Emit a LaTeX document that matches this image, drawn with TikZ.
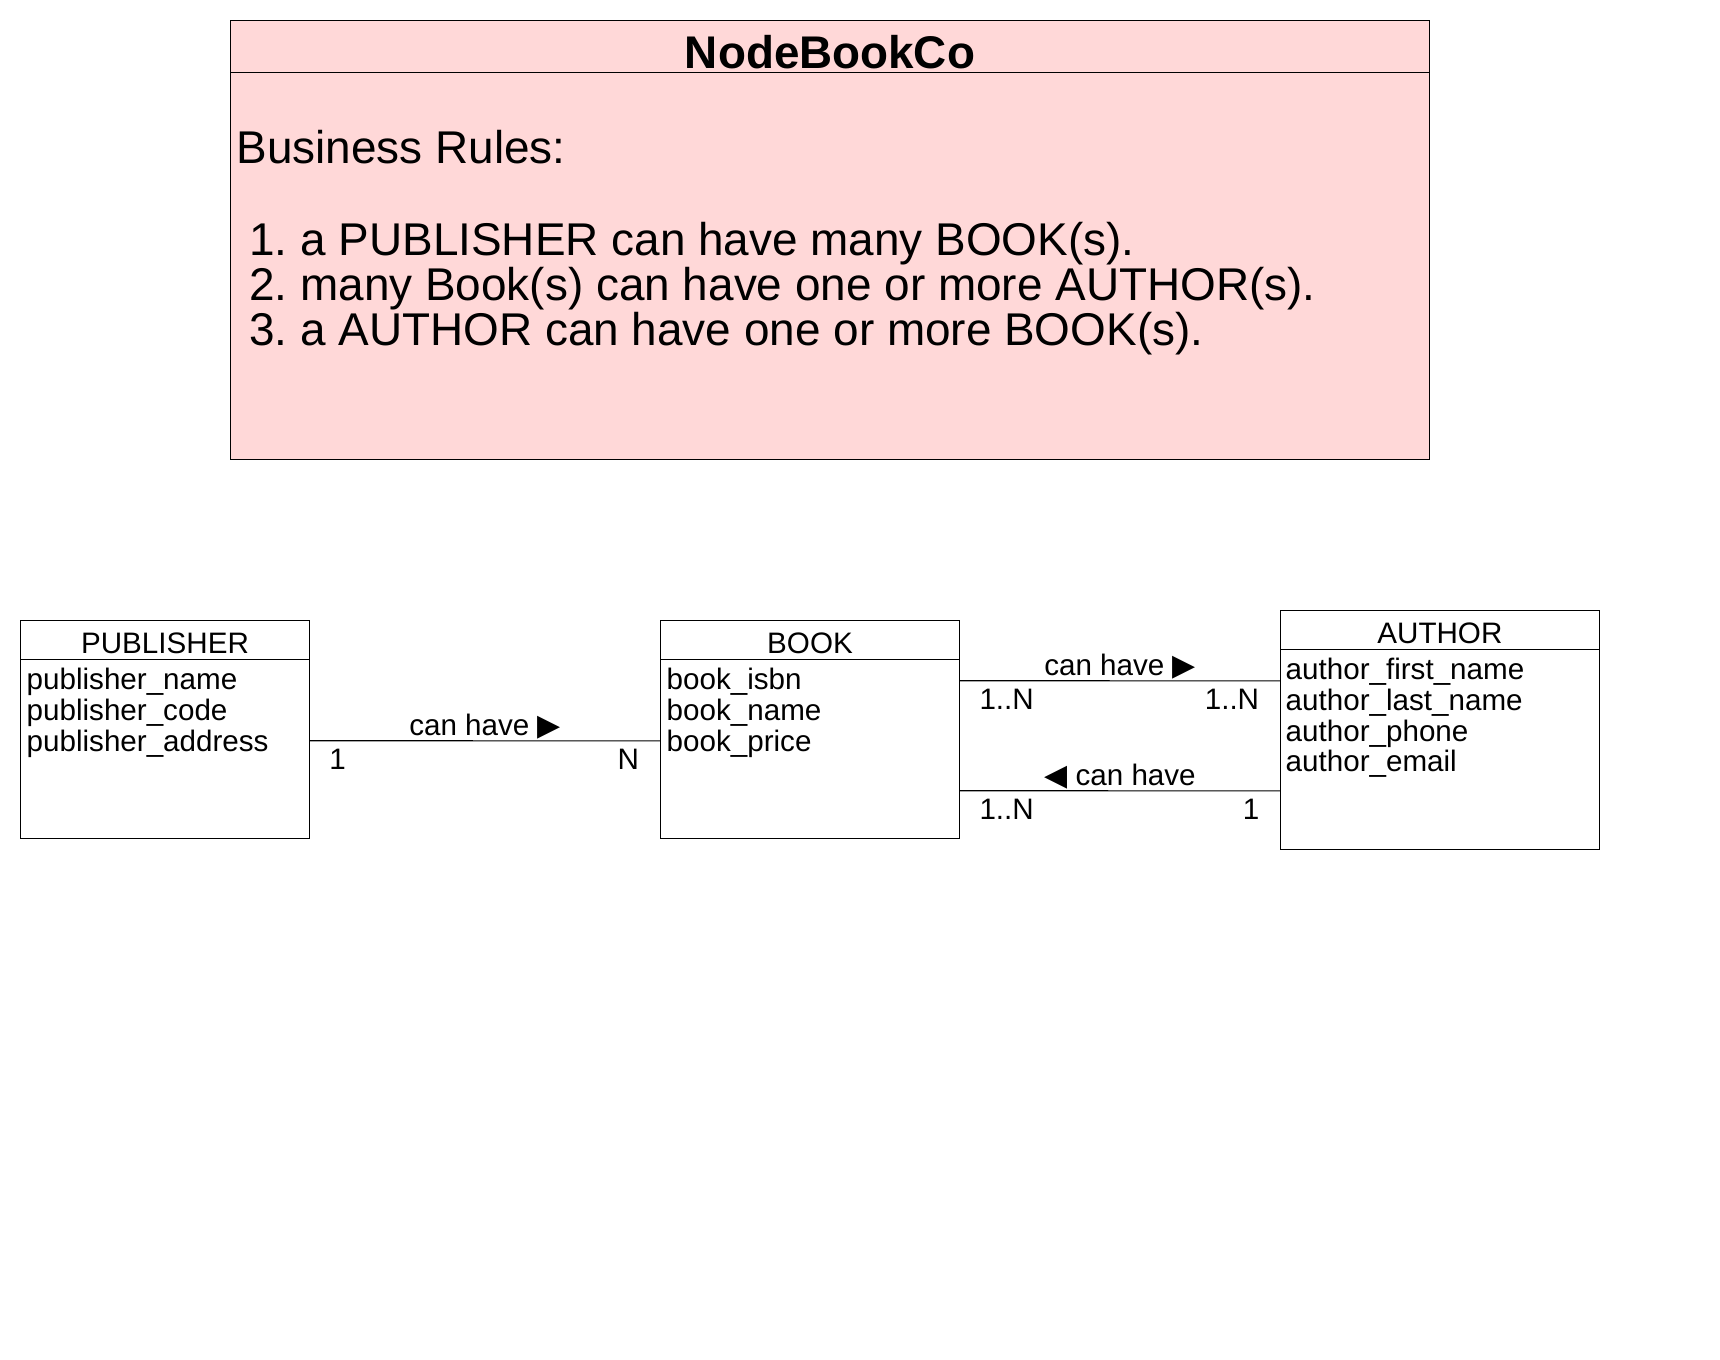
\documentclass[tikz,border=0pt]{standalone}
\usepackage{fontspec}
\setmainfont{Liberation Sans}
\newfontfamily\symfont{DejaVu Sans}
\usepackage{xcolor}
\usepackage{tikz}
\usetikzlibrary{positioning, calc}

\definecolor{notepink}{RGB}{255,216,216}
\newcommand{\rtri}{{\symfont\fontsize{15}{15}\selectfont ▶}}
\newcommand{\ltri}{{\symfont\fontsize{15}{15}\selectfont ◀}}
\frenchspacing

\begin{document}
\begin{tikzpicture}[
    x=0.5pt, y=-0.5pt,
    line width=0.55pt,
    entity/.style={rectangle, draw, inner sep=0pt},
    head/.style={rectangle, inner sep=0pt, anchor=north, minimum height=19pt, text height=13.6pt, text depth=0pt, font=\fontsize{14.8}{15}\selectfont},
    attrs/.style={anchor=north west, inner sep=0pt, align=left, font=\fontsize{14.8}{15.35}\selectfont},
    rel/.style={anchor=base, yshift=2.75pt, inner sep=0pt, font=\fontsize{14.8}{15}\selectfont},
    mult/.style={inner sep=0pt, yshift=-3.8pt, font=\fontsize{14.8}{15}\selectfont}
  ]
    \useasboundingbox (0,0) rectangle (1720,1360);

    % business rules note
    \node[rectangle, draw, fill=notepink, minimum width=599.4pt, minimum height=219.3pt] (note) at (830,240) {};
    \node[anchor=base, font=\bfseries\fontsize{22.9}{23}\selectfont] (title) at ($(note.north)+(0,48.5)$) {NodeBookCo};
    \draw ($(note.north west)+(0,52)$) -- ($(note.north east)+(0,52)$);
    \node[anchor=north west, inner sep=0pt, align=left, font=\fontsize{22.95}{22.5}\selectfont] (rules) at ($(note.north west)+(6,110)$)
      {Business Rules:\\[23.15pt]%
       ~1. a PUBLISHER can have many BOOK(s).\\
       ~2. many Book(s) can have one or more AUTHOR(s).\\
       ~3. a AUTHOR can have one or more BOOK(s).};

    % entities
    \node[entity, minimum width=144.3pt, minimum height=108.8pt] (pub) at (165,729.5) {};
    \node[head, minimum width=144.3pt] (pubh) at (pub.north) {PUBLISHER};
    \draw (pubh.south west) -- (pubh.south east);
    \node[attrs] (pubattr) at ($(pubh.south west)+(6,8.7)$) {publisher\_name\\publisher\_code\\publisher\_address};

    \node[entity, minimum width=149.3pt, minimum height=109pt] (book) at (810,729.7) {};
    \node[head, minimum width=149.3pt] (bookh) at (book.north) {BOOK};
    \draw (bookh.south west) -- (bookh.south east);
    \node[attrs] (bookattr) at ($(bookh.south west)+(6,8.7)$) {book\_isbn\\book\_name\\book\_price};

    \node[entity, minimum width=159.2pt, minimum height=119.2pt] (auth) at (1439.9,729.9) {};
    \node[head, minimum width=159.2pt] (authh) at (auth.north) {AUTHOR};
    \draw (authh.south west) -- (authh.south east);
    \node[attrs] (authattr) at ($(authh.south west)+(5,8.5)$) {author\_first\_name\\author\_last\_name\\author\_phone\\author\_email};

    % relationships
    \draw ($(pub.east)+(0,11.2)$) -- node[rel] {can have \rtri}
      node[mult, pos=0, anchor=north west, xshift=9.5pt] {1}
      node[mult, pos=1, anchor=north east, xshift=-10.3pt] {N}
      ($(book.west)+(0,11.2)$);
    \draw ($(book.east)+(0,-49)$) -- node[rel] {can have \rtri}
      node[mult, pos=0, anchor=north west, xshift=9.55pt] {1..N}
      node[mult, pos=1, anchor=north east, xshift=-10.25pt] {1..N}
      ($(auth.west)+(0,-49)$);
    \draw ($(book.east)+(0,61)$) -- node[rel] {\ltri{} can have}
      node[mult, pos=0, anchor=north west, xshift=9.55pt] {1..N}
      node[mult, pos=1, anchor=north east, xshift=-10.1pt] {1}
      ($(auth.west)+(0,61)$);
  \end{tikzpicture}
\end{document}
